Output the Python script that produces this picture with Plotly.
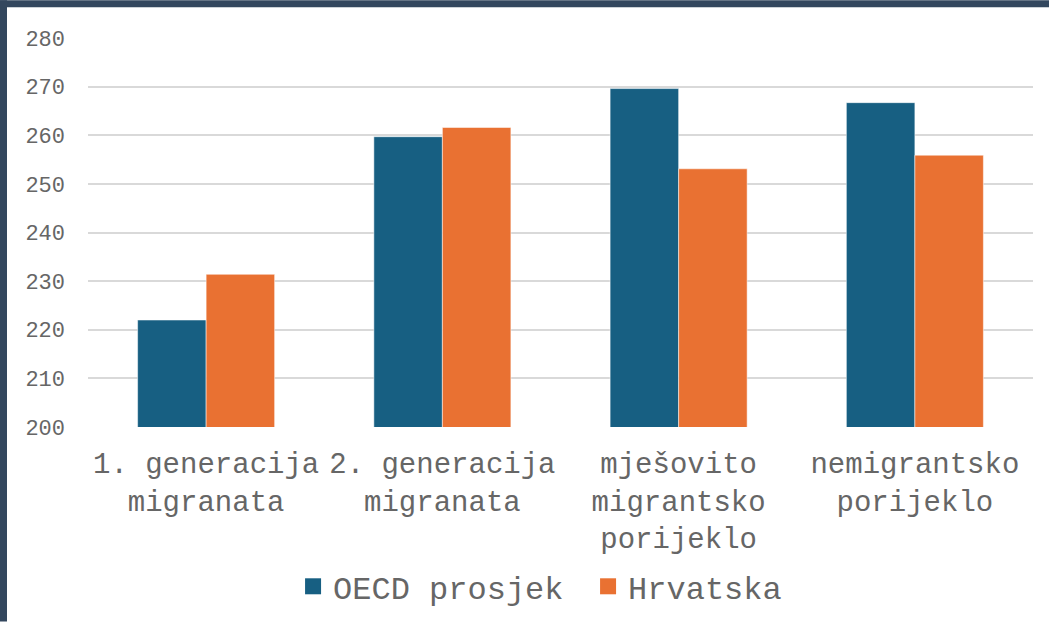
import plotly.graph_objects as go

BLUE = "#175F82"
ORANGE = "#E97132"
FRAME = "#33475E"
GRID = "#D9D9D9"
TEXT = "#666666"
FONT = "Liberation Mono, Courier New, monospace"

categories = [
    "1. generacija<br>migranata",
    "2. generacija<br>migranata",
    "mješovito<br>migrantsko<br>porijeklo",
    "nemigrantsko<br>porijeklo",
]
series = ["OECD prosjek", "Hrvatska"]
oecd = [222.0, 259.7, 269.6, 266.7]
hrvatska = [231.4, 261.6, 253.1, 255.9]

W, H = 1049, 626
L, R, T, B = 88, 16, 38, 196
pw, ph = W - L - R, H - T - B

fig = go.Figure()
for name, vals, col in zip(series, [oecd, hrvatska], [BLUE, ORANGE]):
    fig.add_trace(go.Bar(x=categories, y=vals, name=name, marker_color=col, showlegend=False,
                         marker_line=dict(color="rgba(255,255,255,0.5)", width=1)))
    # legend-only entry with a bigger square swatch
    fig.add_trace(go.Scatter(x=[None], y=[None], mode="markers", name=name,
                             marker=dict(symbol="square", size=17, color=col)))

# dark frame strips on top and left edge
fig.add_shape(type="rect", xref="paper", yref="paper", layer="below", line_width=0,
              x0=-L / pw, x1=(7 - L) / pw, y0=-B / ph, y1=(H - B) / ph, fillcolor=FRAME)
fig.add_shape(type="rect", xref="paper", yref="paper", layer="below", line_width=0,
              x0=-L / pw, x1=(W - L) / pw, y0=(H - B - 7) / ph, y1=(H - B) / ph,
              fillcolor=FRAME)

fig.update_layout(
    width=W, height=H,
    margin=dict(l=L, r=R, t=T, b=B),
    paper_bgcolor="white", plot_bgcolor="white",
    barmode="group", bargap=0.42, bargroupgap=0,
    font=dict(family=FONT, color=TEXT),
    showlegend=True,
    legend=dict(orientation="h", x=0.217, xanchor="left", y=-0.41, yanchor="middle",
                font=dict(size=32, family=FONT, color=TEXT), itemwidth=30,
                entrywidth=250, itemsizing="trace", traceorder="normal"),
    xaxis=dict(tickfont=dict(size=29, family=FONT, color=TEXT), showgrid=False,
               ticks="", showline=False, ticklabelstandoff=16),
    yaxis=dict(range=[200, 280], dtick=10, tickfont=dict(size=22, family=FONT, color=TEXT),
               gridcolor=GRID, gridwidth=2, zeroline=False, showline=False,
               ticklabelstandoff=22),
)

fig.write_html("out.html", config={"displayModeBar": False},
               post_script="document.body.style.margin = '0';")
